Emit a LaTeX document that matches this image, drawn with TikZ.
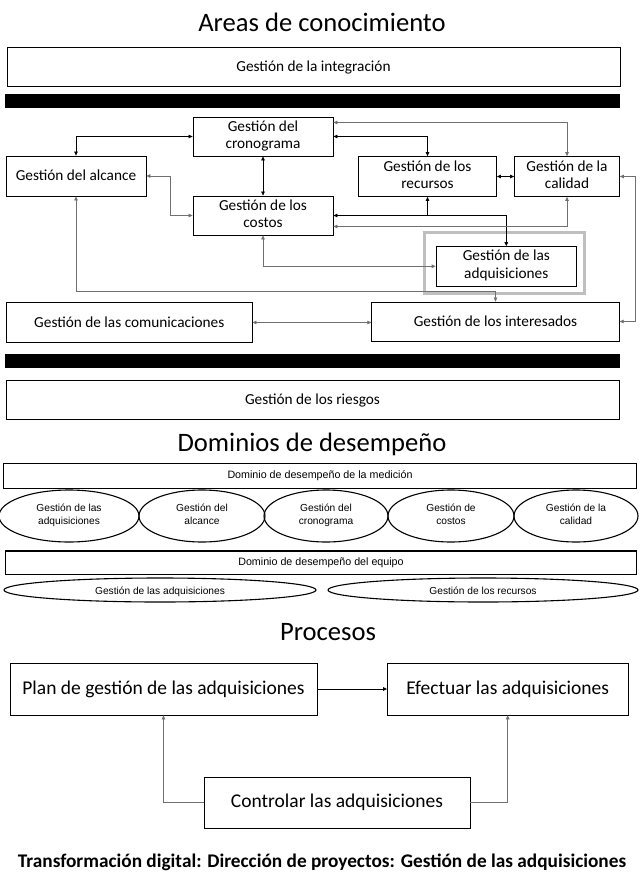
\documentclass[tikz,border=0pt]{standalone}
\usepackage{fontspec}
\setmainfont{Carlito}
\newfontfamily\arialf{Liberation Sans}
\usetikzlibrary{arrows.meta,shapes.geometric,calc}
\definecolor{lgray}{HTML}{707070}
\definecolor{hgray}{HTML}{BFBFBF}
\newcommand{\kstrut}{\rule[-4pt]{0pt}{17.4pt}}
\newcommand{\estrut}{\rule[-3pt]{0pt}{15.7pt}}
\tikzset{
  kbox/.style={draw=black, line width=0.8pt, inner sep=0pt, align=center, font=\fontsize{15.3}{17.4}\selectfont,
    execute at begin node=\kstrut, execute at end node=\kstrut},
  pbox/.style={draw=black, line width=0.8pt, inner sep=0pt, align=center, font=\fontsize{19.5}{23}\selectfont},
  abox/.style={draw=black, line width=1.1pt, inner sep=0pt, align=center, font=\arialf\fontsize{10.7}{12.5}\selectfont,
    execute at begin node=\strut},
  ell/.style={draw=black, ellipse, line width=1.1pt, inner sep=0pt, align=center, font=\arialf\fontsize{10.2}{12.7}\selectfont,
    execute at begin node=\estrut, execute at end node=\estrut},
  bar/.style={fill=black, draw=none, inner sep=0pt},
  ttl/.style={font=\fontsize{26.6}{30}\selectfont, inner sep=0pt},
  kc/.style={line width=0.7pt, draw=black},
  gc/.style={line width=0.7pt, draw=lgray},
  dbl/.style={{Triangle[length=4pt,width=3.6pt]}-{Triangle[length=4pt,width=3.6pt]}},
  sgl/.style={-{Triangle[length=4pt,width=3.6pt]}}
}
\begin{document}
\begin{tikzpicture}[x=1pt,y=-1pt]
\useasboundingbox (0,0) rectangle (640,881);
\fill[white] (0,0) rectangle (640,881);

% ---------- Areas de conocimiento ----------
\node[ttl] (t1) at (322,22) {Areas de conocimiento};
\node[kbox, minimum width=613pt, minimum height=39pt] (integ) at (313.5,66.5) {Gestión de la integración};
\node[bar, minimum width=615pt, minimum height=14pt] (bar1) at (312.5,101) {};

\node[kbox, minimum width=140pt, minimum height=39pt] (crono) at (263,136.5) {Gestión del\\cronograma};
\node[kbox, minimum width=140pt, minimum height=40pt] (alc) at (76,176) {Gestión del alcance};
\node[kbox, minimum width=138pt, minimum height=40pt] (rec) at (427.5,176.5) {Gestión de los\\recursos};
\node[kbox, minimum width=105pt, minimum height=40pt] (cal) at (567,176.5) {Gestión de la\\calidad};
\node[kbox, minimum width=140pt, minimum height=39pt] (cos) at (263,215.5) {Gestión de los\\costos};
\node[draw=hgray, line width=3pt, minimum width=160pt, minimum height=61pt, inner sep=0pt] (hl) at (504,262.5) {};
\node[kbox, minimum width=140.5pt, minimum height=39.5pt] (adq) at (506.3,266.3) {Gestión de las\\adquisiciones};
\node[kbox, minimum width=245.5pt, minimum height=40pt] (com) at (129.3,322.5) {Gestión de las comunicaciones};
\node[kbox, minimum width=247.5pt, minimum height=39pt] (int) at (495.5,321.5) {Gestión de los interesados};
\node[bar, minimum width=615pt, minimum height=14pt] (bar2) at (312.5,361) {};
\node[kbox, minimum width=613pt, minimum height=39pt] (rie) at (312.5,399.5) {Gestión de los riesgos};

% connectors
\draw[kc,dbl] (crono.west) -| (alc.north);
\draw[kc,dbl] (crono.south) -- (cos.north);
\draw[gc,dbl] (alc.east) -- ++(24,0) |- (cos.west);
\draw[gc,dbl] (cos.south) |- (adq.west);
\draw[gc,dbl] (alc.south) |- ([yshift=10pt]int.north) -- (int.north);
\draw[gc,dbl] (com.east) -- (com.east -| int.west);
\draw[gc,dbl] ([yshift=14pt]crono.east) -| (cal.north);
\draw[kc,dbl] (crono.east) -| (rec.north);
\draw[kc,dbl] (rec.east) -- (cal.west);
\draw[kc,dbl] (cos.east) -| (adq.north);
\draw[kc,sgl] (rec.south |- cos.east) -- (rec.south);
\draw[gc,dbl] ([yshift=-11pt]cos.east) -| (cal.south);
\draw[gc,dbl] (cal.east) -- ++(15,0) |- (int.east);

% ---------- Dominios de desempeño ----------
\node[ttl] (t2) at (312,444) {Dominios de desempeño};
\node[abox, minimum width=633.5pt, minimum height=25pt] (med) at (320,475.8) {Dominio de desempeño de la medición};
\node[ell, minimum width=140pt, minimum height=52pt] (e1) at (69,516) {Gestión de las\\adquisiciones};
\node[ell, minimum width=126pt, minimum height=52pt] (e2) at (202,516) {Gestión del\\alcance};
\node[ell, minimum width=124pt, minimum height=52pt] (e3) at (326,516) {Gestión del\\cronograma};
\node[ell, minimum width=126pt, minimum height=52pt] (e4) at (451,516) {Gestión de\\costos};
\node[ell, minimum width=124pt, minimum height=52pt] (e5) at (576,516) {Gestión de la\\calidad};
\node[abox, minimum width=631.5pt, minimum height=23.5pt] (eq) at (321,562.7) {Dominio de desempeño del equipo};
\node[ell, minimum width=312pt, minimum height=24pt] (e6) at (160,590) {Gestión de las adquisiciones};
\node[ell, minimum width=310pt, minimum height=24pt] (e7) at (483,590) {Gestión de los recursos};

% ---------- Procesos ----------
\node[ttl] (t3) at (328,632) {Procesos};
\node[pbox, minimum width=307pt, minimum height=52pt] (plan) at (163.5,689) {Plan de gestión de las adquisiciones};
\node[pbox, minimum width=240.5pt, minimum height=52pt] (efe) at (507.7,689) {Efectuar las adquisiciones};
\node[pbox, minimum width=266pt, minimum height=51pt] (ctl) at (337,802.5) {Controlar las adquisiciones};
\draw[kc,sgl] (plan.east) -- (efe.west);
\draw[gc,sgl] (ctl.west) -| (plan.south);
\draw[gc,sgl] (ctl.east) -| (efe.south);

\node[font=\bfseries\fontsize{19.3}{22}\selectfont, inner sep=0pt] (foot) at (322,862) {Transformación digital: Dirección de proyectos: Gestión de las adquisiciones};
\end{tikzpicture}
\end{document}
